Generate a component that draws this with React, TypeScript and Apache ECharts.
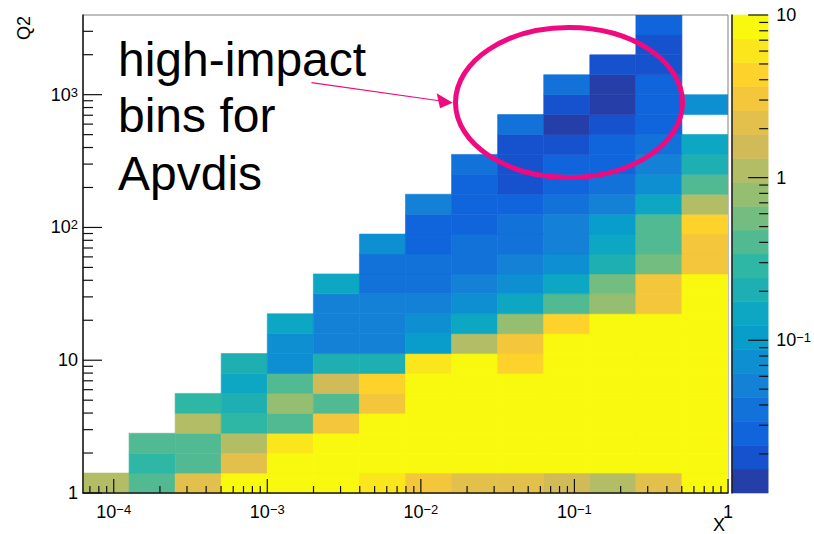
import React, { useEffect, useRef } from "react";
import * as echarts from "echarts";

// Log-spaced x bins (0.3 decade each) and Q2 bins (0.15 decade each)
const xBinEdges = [
  6.31e-5, 1.259e-4, 2.512e-4, 5.012e-4, 1e-3, 1.995e-3, 3.981e-3, 7.943e-3,
  1.585e-2, 3.162e-2, 6.31e-2, 0.1259, 0.2512, 0.5012, 1,
];
const q2BinEdges = [
  1, 1.413, 1.995, 2.818, 3.981, 5.623, 7.943, 11.22, 15.85, 22.39, 31.62, 44.67,
  63.1, 89.13, 125.9, 177.8, 251.2, 354.8, 501.2, 707.9, 1000, 1413, 1995, 2818, 3981,
];

// Bin contents, one row per Q2 bin starting from the lowest; null = empty bin
const _ = null;
const binContent: (number | null)[][] = [
  [1.1, 0.4, 2.2, 8.2, 11, 9.5, 6.0, 3.1, 2.2, 2.2, 1.55, 1.1, 2.2, 7.8],
  [_, 0.29, 0.4, 2.2, 14, 19, 17, 15, 13, 12, 11, 10, 9.6, 9.0],
  [_, 0.4, 0.4, 1.1, 6.0, 12, 16, 18, 16, 15, 14, 13, 12, 11],
  [_, _, 1.1, 0.29, 0.4, 3.1, 9.0, 14, 16, 15, 14, 14, 13, 12],
  [_, _, 0.29, 0.2, 0.79, 0.4, 3.1, 8.5, 13, 15, 14, 14, 13, 12],
  [_, _, _, 0.145, 0.4, 1.55, 4.3, 7.6, 11, 13, 14, 13, 13, 12],
  [_, _, _, 0.2, 0.074, 0.2, 0.2, 6.0, 7.5, 4.3, 9.5, 12, 12, 11],
  [_, _, _, _, 0.074, 0.053, 0.053, 0.104, 1.1, 3.1, 7.5, 10, 11, 11],
  [_, _, _, _, 0.145, 0.053, 0.053, 0.074, 0.145, 0.79, 4.3, 8.0, 9.5, 10],
  [_, _, _, _, _, 0.053, 0.053, 0.053, 0.074, 0.145, 0.4, 0.79, 3.1, 8.5],
  [_, _, _, _, _, 0.145, 0.037, 0.037, 0.053, 0.074, 0.145, 0.56, 3.1, 7.4],
  [_, _, _, _, _, _, 0.037, 0.037, 0.037, 0.053, 0.074, 0.2, 0.56, 3.1],
  [_, _, _, _, _, _, 0.074, 0.027, 0.037, 0.037, 0.053, 0.145, 0.4, 3.1],
  [_, _, _, _, _, _, _, 0.027, 0.027, 0.037, 0.053, 0.104, 0.4, 4.3],
  [_, _, _, _, _, _, _, 0.053, 0.027, 0.027, 0.037, 0.053, 0.145, 1.1],
  [_, _, _, _, _, _, _, _, 0.027, 0.019, 0.027, 0.037, 0.074, 0.4],
  [_, _, _, _, _, _, _, _, 0.037, 0.019, 0.027, 0.027, 0.053, 0.2],
  [_, _, _, _, _, _, _, _, _, 0.019, 0.019, 0.027, 0.037, 0.145],
  [_, _, _, _, _, _, _, _, _, 0.037, 0.0136, 0.019, 0.027, _],
  [_, _, _, _, _, _, _, _, _, _, 0.019, 0.0136, 0.027, 0.074],
  [_, _, _, _, _, _, _, _, _, _, 0.037, 0.0136, 0.027, _],
  [_, _, _, _, _, _, _, _, _, _, _, 0.019, 0.019, _],
  [_, _, _, _, _, _, _, _, _, _, _, _, 0.019, _],
  [_, _, _, _, _, _, _, _, _, _, _, _, 0.027, _],
];

// Colour scale range (log) and number of contour levels
const zRange = [0.0115, 10];
const nContours = 20;

// "Bird" palette stops
const birdStops = [0, 0.125, 0.25, 0.375, 0.5, 0.625, 0.75, 0.875, 1];
const birdRed = [0.2082, 0.0592, 0.078, 0.0232, 0.1802, 0.5301, 0.8186, 0.9956, 0.9764];
const birdGreen = [0.1664, 0.3599, 0.5041, 0.6419, 0.7178, 0.7492, 0.7328, 0.7862, 0.9832];
const birdBlue = [0.5293, 0.8684, 0.8385, 0.7914, 0.6425, 0.4662, 0.3499, 0.1968, 0.0539];

const FONT = '"Liberation Sans", Arial, Helvetica, sans-serif';
const INK = "#000";
const PINK = "#f00a7f";

function gradientTable(n: number): string[] {
  const out: string[] = [];
  const to255 = (v: number) => Math.round(v * 255);
  for (let g = 1; g < birdStops.length; g++) {
    const nG = Math.floor(n * birdStops[g]) - Math.floor(n * birdStops[g - 1]);
    for (let c = 0; c < nG; c++) {
      const t = c / nG;
      const r = birdRed[g - 1] + (birdRed[g] - birdRed[g - 1]) * t;
      const gr = birdGreen[g - 1] + (birdGreen[g] - birdGreen[g - 1]) * t;
      const b = birdBlue[g - 1] + (birdBlue[g] - birdBlue[g - 1]) * t;
      out.push(`rgb(${to255(r)},${to255(gr)},${to255(b)})`);
    }
  }
  return out;
}

const table = gradientTable(255);
const bandColors = Array.from({ length: nContours }, (_v, k) =>
  table[Math.min(table.length - 1, Math.floor(((k + 0.99) * table.length) / nContours))]
);
const logZMin = Math.log10(zRange[0]);
const logZMax = Math.log10(zRange[1]);
const bandWidth = (logZMax - logZMin) / nContours;

function contourColor(z: number): string {
  let k = Math.floor(0.01 + (Math.log10(z) - logZMin) / bandWidth);
  k = Math.max(0, Math.min(nContours - 1, k));
  return bandColors[k];
}

function decadeLabel(v: number): string {
  const e = Math.log10(v);
  const n = Math.round(e);
  if (Math.abs(e - n) > 1e-6) return "";
  if (n === 0) return "{b|1}";
  if (n === 1) return "{b|10}";
  return `{b|10}{s|${n < 0 ? "\u2212" : ""}${Math.abs(n)}}`;
}

const richLabel = {
  b: { fontSize: 18, fontFamily: FONT, color: INK, lineHeight: 18, verticalAlign: "bottom" },
  s: { fontSize: 13, fontFamily: FONT, color: INK, lineHeight: 8, verticalAlign: "top" },
};

// Log tick positions (1..9 x 10^n) inside [lo, hi]; flag 1 for decades
function logTicks(lo: number, hi: number): [number, number][] {
  const out: [number, number][] = [];
  for (let n = Math.floor(Math.log10(lo)) - 1; n <= Math.ceil(Math.log10(hi)); n++) {
    for (let m = 1; m <= 9; m++) {
      const v = m * Math.pow(10, n);
      if (v >= lo * (1 - 1e-9) && v <= hi * (1 + 1e-9)) out.push([v, m === 1 ? 1 : 0]);
    }
  }
  return out;
}

function buildOption() {
  const xMin = xBinEdges[0];
  const xMax = xBinEdges[xBinEdges.length - 1];
  const yMin = q2BinEdges[0];
  const yMax = q2BinEdges[q2BinEdges.length - 1];

  const cells: number[][] = [];
  binContent.forEach((row, iy) =>
    row.forEach((z, ix) => {
      if (z != null) cells.push([xBinEdges[ix], xBinEdges[ix + 1], q2BinEdges[iy], q2BinEdges[iy + 1], z]);
    })
  );

  const bands = bandColors.map((_c, k) => [
    0,
    1,
    Math.pow(10, logZMin + k * bandWidth),
    Math.pow(10, logZMin + (k + 1) * bandWidth),
    k,
  ]);

  const xTickData = logTicks(xMin, xMax).map(([v, major]) => [v, yMin, major ? 14 : 7]);
  const yTickData = logTicks(yMin, yMax).map(([v, major]) => [xMin, v, major ? 19 : 10]);
  const zTickData = logTicks(zRange[0], zRange[1]).map(([v, major]) => [1, v, major ? 20 : 9]);

  const tickStyle = { stroke: "#111", lineWidth: 1.2 };

  return {
    animation: false,
    backgroundColor: "#fff",
    grid: [
      { left: 83, top: 15, width: 645, height: 478, show: true, borderColor: "#808080", borderWidth: 1, backgroundColor: "transparent" },
      { left: 732, top: 15, width: 37, height: 478 },
    ],
    xAxis: [
      {
        gridIndex: 0,
        type: "log",
        logBase: 10,
        min: xMin,
        max: xMax,
        z: 5,
        axisLine: { show: true, lineStyle: { color: "#1a1a1a", width: 1.5 } },
        axisTick: { show: false },
        splitLine: { show: false },
        axisLabel: { margin: 10, formatter: decadeLabel, rich: richLabel },
      },
      { gridIndex: 1, type: "value", min: 0, max: 1, show: false },
    ],
    yAxis: [
      {
        gridIndex: 0,
        type: "log",
        logBase: 10,
        min: yMin,
        max: yMax,
        z: 5,
        axisLine: { show: true, lineStyle: { color: "#1a1a1a", width: 1.5 } },
        axisTick: { show: false },
        splitLine: { show: false },
        axisLabel: { margin: 5, formatter: decadeLabel, rich: richLabel },
      },
      {
        gridIndex: 1,
        type: "log",
        logBase: 10,
        min: zRange[0],
        max: zRange[1],
        position: "right",
        z: 5,
        axisLine: { show: true, lineStyle: { color: "#1a1a1a", width: 1.5 } },
        axisTick: { show: false },
        splitLine: { show: false },
        axisLabel: { margin: 8, formatter: decadeLabel, rich: richLabel },
      },
    ],
    series: [
      {
        type: "custom",
        name: "Q2 vs x",
        xAxisIndex: 0,
        yAxisIndex: 0,
        clip: true,
        encode: { x: [0, 1], y: [2, 3] },
        data: cells,
        renderItem: (_p: any, api: any) => {
          const a = api.coord([api.value(0), api.value(2)]);
          const b = api.coord([api.value(1), api.value(3)]);
          const fill = contourColor(api.value(4));
          return {
            type: "rect",
            shape: { x: a[0], y: b[1], width: b[0] - a[0], height: a[1] - b[1] },
            style: { fill, stroke: fill, lineWidth: 0.6 },
          };
        },
      },
      {
        type: "custom",
        name: "palette",
        xAxisIndex: 1,
        yAxisIndex: 1,
        encode: { x: [0, 1], y: [2, 3] },
        data: bands,
        renderItem: (_p: any, api: any) => {
          const a = api.coord([api.value(0), api.value(2)]);
          const b = api.coord([api.value(1), api.value(3)]);
          const fill = bandColors[api.value(4)];
          return {
            type: "rect",
            shape: { x: a[0], y: b[1], width: b[0] - a[0], height: a[1] - b[1] },
            style: { fill, stroke: fill, lineWidth: 0.6 },
          };
        },
      },
      {
        type: "custom",
        name: "x ticks",
        xAxisIndex: 0,
        yAxisIndex: 0,
        z: 6,
        silent: true,
        encode: { x: 0, y: 1 },
        data: xTickData,
        renderItem: (_p: any, api: any) => {
          const p = api.coord([api.value(0), api.value(1)]);
          const len = api.value(2);
          return { type: "line", shape: { x1: p[0], y1: p[1], x2: p[0], y2: p[1] - len }, style: tickStyle };
        },
      },
      {
        type: "custom",
        name: "y ticks",
        xAxisIndex: 0,
        yAxisIndex: 0,
        z: 6,
        silent: true,
        encode: { x: 0, y: 1 },
        data: yTickData,
        renderItem: (_p: any, api: any) => {
          const p = api.coord([api.value(0), api.value(1)]);
          const len = api.value(2);
          return { type: "line", shape: { x1: p[0], y1: p[1], x2: p[0] + len, y2: p[1] }, style: tickStyle };
        },
      },
      {
        type: "custom",
        name: "z ticks",
        xAxisIndex: 1,
        yAxisIndex: 1,
        z: 6,
        silent: true,
        encode: { x: 0, y: 1 },
        data: zTickData,
        renderItem: (_p: any, api: any) => {
          const p = api.coord([api.value(0), api.value(1)]);
          const len = api.value(2);
          return { type: "line", shape: { x1: p[0], y1: p[1], x2: p[0] - len, y2: p[1] }, style: tickStyle };
        },
      },
    ],
    graphic: [
      {
        type: "text",
        z: 100,
        x: 24,
        y: 16,
        rotation: Math.PI / 2,
        style: { text: "Q2", fontSize: 18, fontFamily: FONT, fill: INK, align: "right", verticalAlign: "middle" },
      },
      {
        type: "text",
        z: 100,
        x: 725,
        y: 524.5,
        style: { text: "X", fontSize: 18, lineHeight: 12, fontFamily: FONT, fill: INK, align: "right", verticalAlign: "middle" },
      },
      {
        type: "text",
        z: 100,
        x: 118,
        y: 59.4,
        style: { text: "high-impact", fontSize: 48, fontFamily: FONT, fill: INK, align: "left", verticalAlign: "middle" },
      },
      {
        type: "text",
        z: 100,
        x: 118,
        y: 115.6,
        style: { text: "bins for", fontSize: 48, fontFamily: FONT, fill: INK, align: "left", verticalAlign: "middle" },
      },
      {
        type: "text",
        z: 100,
        x: 118,
        y: 173.4,
        style: { text: "Apvdis", fontSize: 48, fontFamily: FONT, fill: INK, align: "left", verticalAlign: "middle" },
      },
      {
        type: "ellipse",
        z: 100,
        shape: { cx: 569, cy: 102.5, rx: 113.5, ry: 75 },
        style: { fill: "none", stroke: PINK, lineWidth: 5 },
      },
      {
        type: "line",
        z: 100,
        shape: { x1: 311.5, y1: 82.7, x2: 441, y2: 101 },
        style: { stroke: PINK, lineWidth: 1.2 },
      },
      {
        type: "polygon",
        z: 100,
        shape: { points: [[452.7, 102.7], [436.7, 93.3], [440, 108.3]] },
        style: { fill: PINK },
      },
    ],
  };
}

export default function App() {
  const ref = useRef<HTMLDivElement>(null);
  useEffect(() => {
    if (!ref.current) return;
    const chart = echarts.init(ref.current, null, { renderer: "svg" });
    chart.setOption(buildOption() as any);
    return () => chart.dispose();
  }, []);
  return (
    <div
      ref={ref}
      style={{ position: "fixed", left: 0, top: 0, width: 814, height: 534, background: "#fff" }}
    />
  );
}
